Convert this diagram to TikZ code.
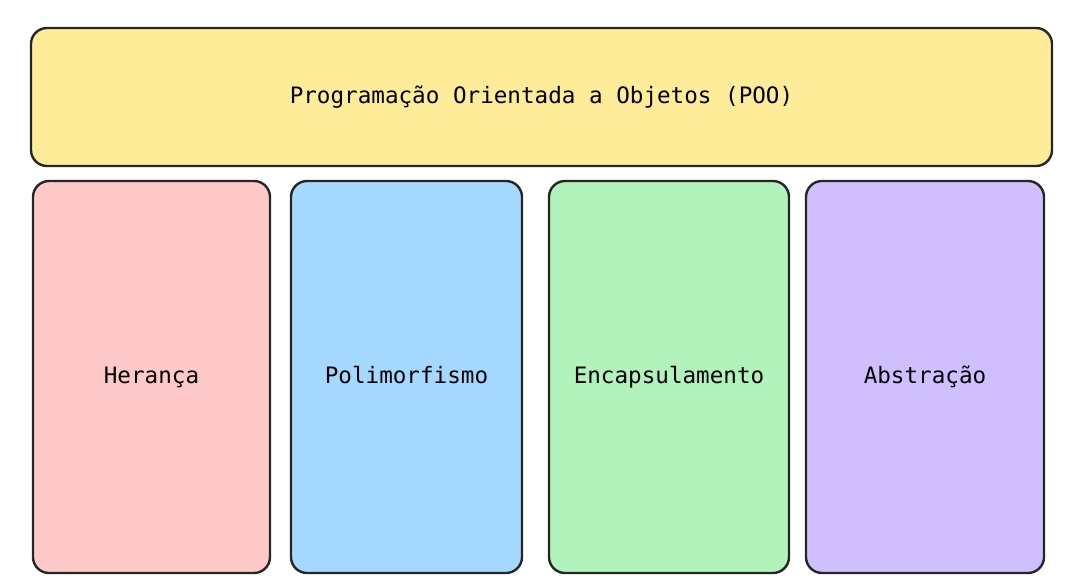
\documentclass[tikz,border=0pt]{standalone}
\usepackage{fontspec}
\setmonofont{DejaVu Sans Mono}
\definecolor{pooyellow}{HTML}{FFEC99}
\definecolor{poopink}{HTML}{FFC9C9}
\definecolor{pooblue}{HTML}{A5D8FF}
\definecolor{poogreen}{HTML}{B2F2BB}
\definecolor{poopurple}{HTML}{D0BFFF}
\begin{document}
\begin{tikzpicture}[
        x=1pt, y=-1pt,
        every node/.style={draw=black!85, line width=2.4pt, rounded corners=16pt,
            text centered, font=\ttfamily\fontsize{22.6}{26}\selectfont, inner sep=0pt,
            text height=1.5em, text depth=0.2em},
        pillar/.style={minimum width=236pt, minimum height=392pt},
    ]
    \useasboundingbox (0,0) rectangle (1078,584);
    \node[fill=pooyellow, minimum width=1021pt, minimum height=138pt](poo) at (541.5,97){Programação Orientada a Objetos (POO)};
    \node[pillar, fill=poopink, minimum width=237pt](heranca) at (151.5,377){Herança};
    \node[pillar, fill=pooblue, minimum width=231pt](polimorfismo) at (406.5,377){Polimorfismo};
    \node[pillar, fill=poogreen, minimum width=240pt](encapsulamento) at (669,377){Encapsulamento};
    \node[pillar, fill=poopurple, minimum width=238pt](abstracao) at (925,377){Abstração};
    \end{tikzpicture}
\end{document}
